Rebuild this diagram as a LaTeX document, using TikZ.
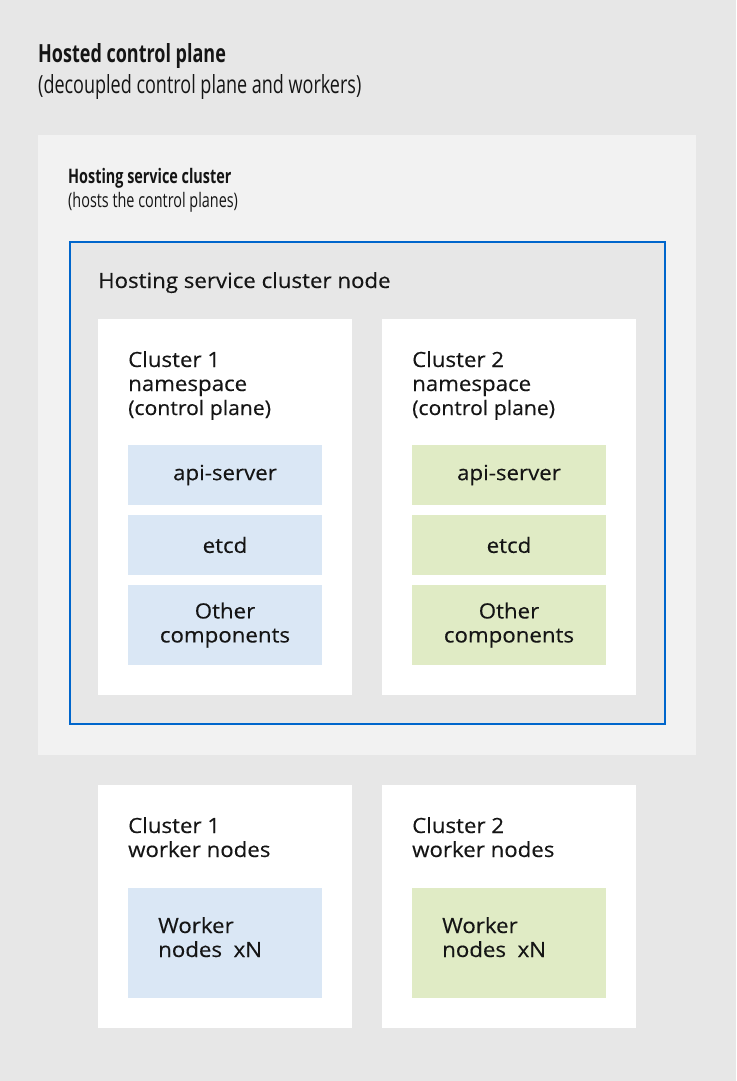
\documentclass[tikz,border=0pt]{standalone}
\usepackage{fontspec}
\setmainfont{Open Sans}[FakeStretch=1.06, FakeBold=0.3]
\newfontfamily\headfont[FakeStretch=0.72]{Open Sans}

\definecolor{outergray}{HTML}{E7E7E7}
\definecolor{hostgray}{HTML}{F2F2F2}
\definecolor{rhblue}{HTML}{0066CC}
\definecolor{compblue}{HTML}{DAE7F5}
\definecolor{compgreen}{HTML}{E0EBC5}
\definecolor{inkblack}{HTML}{151515}

\newcommand{\bigheadfont}{\headfont\fontsize{25}{31}\selectfont}
\newcommand{\smallheadfont}{\headfont\fontsize{20}{24}\selectfont}
\newcommand{\labelfont}{\fontsize{21}{24}\selectfont}

\tikzset{
  panel/.style={anchor=north west, inner sep=0pt, outer sep=0pt},
  hostbox/.style={panel, fill=hostgray},
  nodebox/.style={panel, fill=outergray, draw=rhblue, line width=1.5pt},
  whitebox/.style={panel, fill=white, minimum width=254pt},
  comp/.style={inner sep=0pt, minimum width=194pt, align=center, font=\labelfont, text=inkblack},
  bluecomp/.style={comp, fill=compblue},
  greencomp/.style={comp, fill=compgreen},
  label/.style={anchor=base west, inner sep=0pt, align=left, text=inkblack},
}

\begin{document}
\begin{tikzpicture}[x=1pt, y=-1pt]
\useasboundingbox (0,0) rectangle (736,1081);
\fill[outergray] (0,0) rectangle (736,1081);

% title (base = last line)
\node[label, font=\bigheadfont] (title) at (38,93) {\textbf{Hosted control plane}\\(decoupled control plane and workers)};

% hosting service cluster
\node[hostbox, minimum width=658pt, minimum height=620pt] (host) at (38,135) {};
\node[label, font=\smallheadfont] (hostlabel) at (68,207) {\textbf{Hosting service cluster}\\(hosts the control planes)};

\node[nodebox, minimum width=595pt, minimum height=482pt] (hostnode) at (70,242) {};
\node[label, font=\labelfont] (hostnodelabel) at (98,288) {Hosting service cluster node};

% namespaces
\node[whitebox, minimum height=376pt] (ns1) at (98,319) {};
\node[whitebox, minimum height=376pt] (ns2) at (382,319) {};
\node[label, font=\labelfont] (ns1label) at (128,415) {Cluster 1\\namespace\\{\fontsize{20}{24}\selectfont(control plane)}};
\node[label, font=\labelfont] (ns2label) at (412,415) {Cluster 2\\namespace\\{\fontsize{20}{24}\selectfont(control plane)}};

\node[bluecomp, minimum height=60pt] (api1) at (225,475) {api-server};
\node[bluecomp, minimum height=60pt] (etcd1) at (225,545) {etcd};
\node[bluecomp, minimum height=80pt] (other1) at (225,625) {Other\\components};

\node[greencomp, minimum height=60pt] (api2) at (509,475) {api-server};
\node[greencomp, minimum height=60pt] (etcd2) at (509,545) {etcd};
\node[greencomp, minimum height=80pt] (other2) at (509,625) {Other\\components};

% workers
\node[whitebox, minimum height=243pt] (wk1) at (98,785) {};
\node[whitebox, minimum height=243pt] (wk2) at (382,785) {};
\node[label, font=\labelfont] (wk1label) at (128,857) {Cluster 1\\worker nodes};
\node[label, font=\labelfont] (wk2label) at (412,857) {Cluster 2\\worker nodes};

\node[panel, fill=compblue, minimum width=194pt, minimum height=110pt] (pool1) at (128,888) {};
\node[panel, fill=compgreen, minimum width=194pt, minimum height=110pt] (pool2) at (412,888) {};
\node[label, font=\labelfont] (pool1label) at (158,957) {Worker\\nodes~~xN};
\node[label, font=\labelfont] (pool2label) at (442,957) {Worker\\nodes~~xN};
\end{tikzpicture}
\end{document}
